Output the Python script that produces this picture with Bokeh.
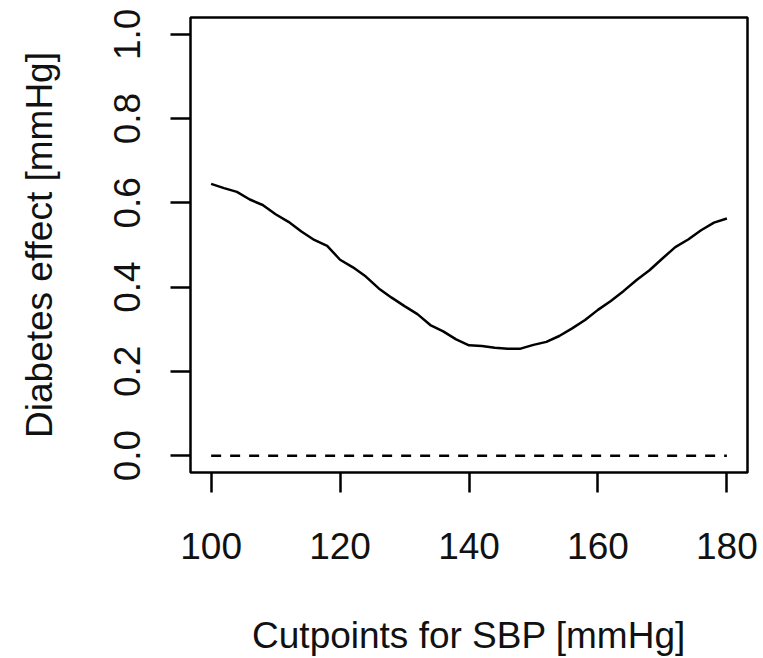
from bokeh.plotting import figure
from bokeh.models import FixedTicker, Range1d, CustomJSTickFormatter
from bokeh.embed import file_html
from bokeh.resources import INLINE

cutpoints = [100, 102, 104, 106, 108, 110, 112, 114, 116, 118, 120, 122, 124, 126, 128,
             130, 132, 134, 136, 138, 140, 142, 144, 146, 148, 150, 152, 154, 156, 158,
             160, 162, 164, 166, 168, 170, 172, 174, 176, 178, 180]
effect = [0.645, 0.635, 0.626, 0.608, 0.595, 0.573, 0.555, 0.532, 0.512, 0.498, 0.465,
          0.447, 0.425, 0.397, 0.375, 0.355, 0.336, 0.310, 0.295, 0.276, 0.262, 0.260,
          0.256, 0.254, 0.254, 0.263, 0.270, 0.284, 0.302, 0.322, 0.346, 0.367, 0.391,
          0.417, 0.440, 0.468, 0.495, 0.513, 0.535, 0.553, 0.563]
ref_x = [100, 180]
ref_y = [0.0, 0.0]
x_ticks = [100, 120, 140, 160, 180]
y_ticks = [0.0, 0.2, 0.4, 0.6, 0.8, 1.0]

FONT = "Liberation Sans"
FS = "37px"

p = figure(width=763, height=658, output_backend="svg", toolbar_location=None,
           x_range=Range1d(96.8, 183.2), y_range=Range1d(-0.04, 1.04),
           min_border_left=190, min_border_right=16, min_border_top=17, min_border_bottom=185,
           x_axis_label="Cutpoints for SBP [mmHg]", y_axis_label="Diabetes effect [mmHg]")

p.background_fill_color = "white"
p.border_fill_color = "white"
p.outline_line_color = "black"
p.outline_line_width = 2.5
p.grid.visible = False

p.line(cutpoints, effect, line_color="black", line_width=2.5)
p.line(ref_x, ref_y, line_color="black", line_width=2.5, line_dash="10 9")

for ax in (p.xaxis[0], p.yaxis[0]):
    ax.axis_line_color = None
    ax.major_tick_line_color = "black"
    ax.major_tick_line_width = 2.5
    ax.major_tick_in = 0
    ax.major_tick_out = 20
    ax.minor_tick_line_color = None
    ax.major_label_text_font = FONT
    ax.major_label_text_font_size = FS
    ax.major_label_text_color = "#111111"
    ax.axis_label_text_font = FONT
    ax.axis_label_text_font_size = FS
    ax.axis_label_text_font_style = "normal"
    ax.axis_label_text_color = "#111111"

p.xaxis[0].ticker = FixedTicker(ticks=x_ticks)
p.yaxis[0].ticker = FixedTicker(ticks=y_ticks)
p.yaxis[0].formatter = CustomJSTickFormatter(code="return tick.toFixed(1);")
p.yaxis[0].major_label_orientation = "vertical"
p.xaxis[0].major_label_standoff = 40
p.xaxis[0].axis_label_standoff = 53
p.yaxis[0].major_label_standoff = 30
p.yaxis[0].axis_label_standoff = 52

open("out.html", "w").write(file_html(p, INLINE))
